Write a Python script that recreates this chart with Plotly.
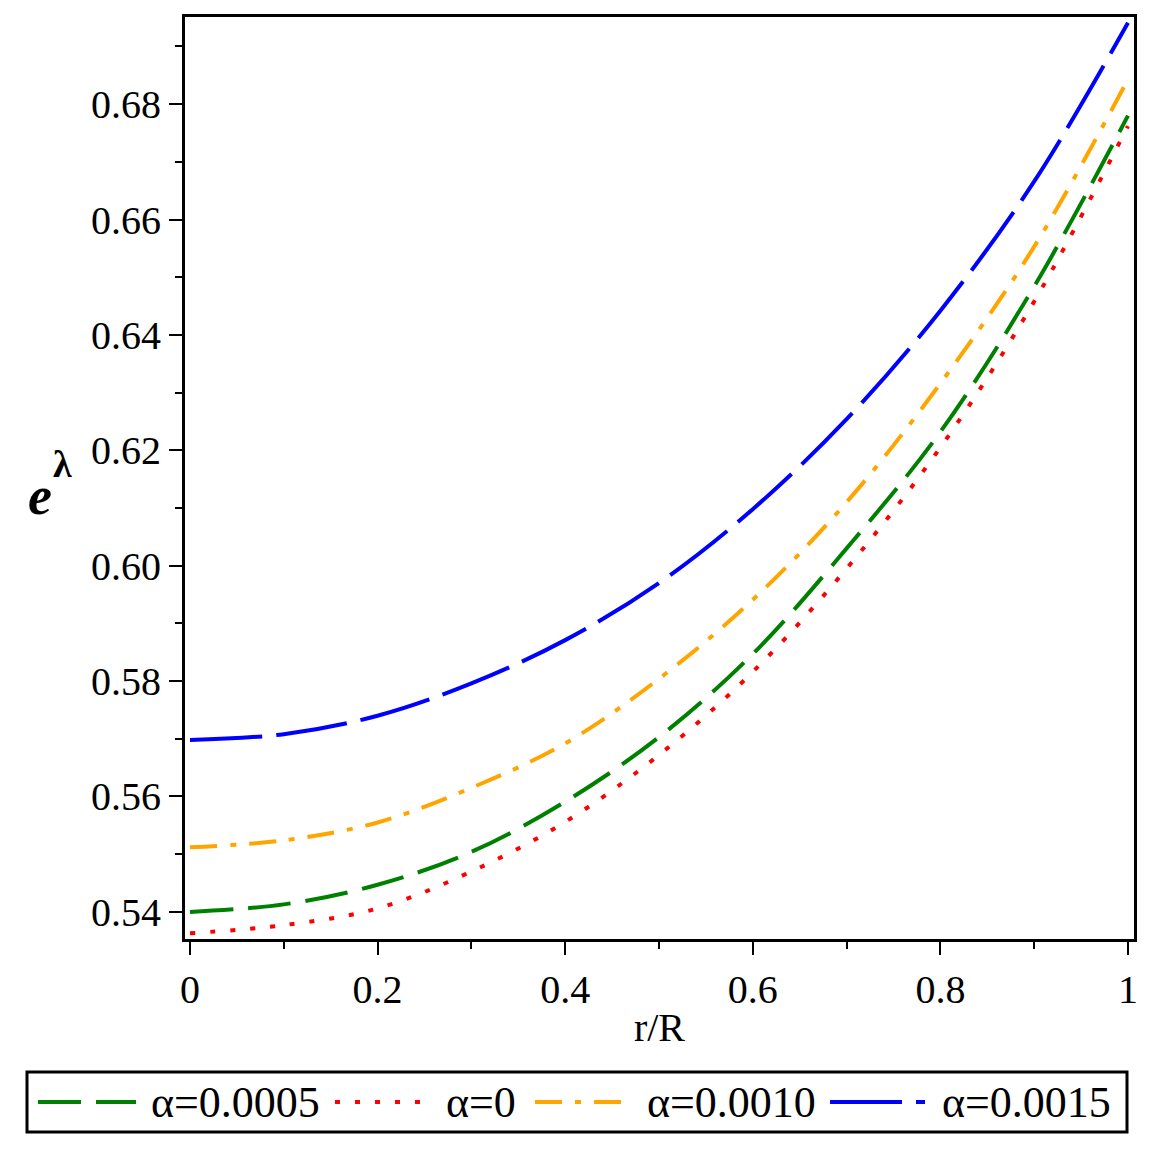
import plotly.graph_objects as go

# ---- data ----
r_over_R = [0.0, 0.1, 0.2, 0.3, 0.4, 0.5, 0.6, 0.7, 0.8, 0.9, 1.0]
e_lambda_a0005 = [0.5400, 0.5413, 0.5447, 0.5504, 0.5591, 0.5703, 0.5847, 0.6030, 0.6232, 0.6484, 0.6780]
e_lambda_a0 = [0.5363, 0.5377, 0.5406, 0.5470, 0.5556, 0.5672, 0.5816, 0.5995, 0.6205, 0.6458, 0.6762]
e_lambda_a0010 = [0.5512, 0.5524, 0.5555, 0.5615, 0.5692, 0.5804, 0.5941, 0.6110, 0.6316, 0.6553, 0.6843]
e_lambda_a0015 = [0.5698, 0.5708, 0.5740, 0.5796, 0.5871, 0.5970, 0.6098, 0.6254, 0.6442, 0.6666, 0.6941]

series_names = ["α=0.0005", "α=0", "α=0.0010", "α=0.0015"]
x_tick_vals = [0, 0.2, 0.4, 0.6, 0.8, 1.0]
x_tick_text = ["0", "0.2", "0.4", "0.6", "0.8", "1"]
y_tick_vals = [0.54, 0.56, 0.58, 0.60, 0.62, 0.64, 0.66, 0.68]
y_tick_text = ["0.54", "0.56", "0.58", "0.60", "0.62", "0.64", "0.66", "0.68"]

# ---- styles ----
W = H = 1157
L, R, T, B = 185, 1134, 17, 939
FONT = "Liberation Serif, Times New Roman, serif"
styles = [
    dict(color="#008000", dash="43px,15px"),
    dict(color="#ff0000", dash="5px,15px"),
    dict(color="#ffa500", dash="27px,13px,6px,13px"),
    dict(color="#0000ff", dash="72px,14px"),
]
series = [e_lambda_a0005, e_lambda_a0, e_lambda_a0010, e_lambda_a0015]

fig = go.Figure()
for name, ys, st in zip(series_names, series, styles):
    fig.add_trace(go.Scatter(
        x=r_over_R, y=ys, mode="lines", name=name,
        line=dict(color=st["color"], dash=st["dash"], width=4, shape="spline"),
        showlegend=False,
    ))

def px_x(px):
    return (px - L) / (R - L)

def px_y(py):
    return (B - py) / (B - T)

# custom legend (box, samples, labels)
shapes = [dict(type="rect", xref="paper", yref="paper",
               x0=px_x(27), x1=px_x(1127), y0=px_y(1132), y1=px_y(1072),
               line=dict(color="black", width=3), fillcolor="rgba(0,0,0,0)")]
legend_items = [(38, 136, 149), (335, 425, 444), (535, 628, 645), (830, 925, 940)]
annotations = []
ly = 1102
for (x0, x1, tx), name, st in zip(legend_items, series_names, styles):
    shapes.append(dict(type="line", xref="paper", yref="paper",
                       x0=px_x(x0), x1=px_x(x1), y0=px_y(ly), y1=px_y(ly),
                       line=dict(color=st["color"], width=4, dash=st["dash"])))
    annotations.append(dict(xref="paper", yref="paper", x=px_x(tx), y=px_y(ly),
                            xanchor="left", yanchor="middle", text=name, showarrow=False,
                            font=dict(family=FONT, size=44, color="black")))

# y-axis label e^λ (base and raised exponent)
annotations.append(dict(xref="paper", yref="paper", x=px_x(40), y=px_y(496),
                        xanchor="center", yanchor="middle", showarrow=False,
                        text="<b><i>e</i></b>",
                        font=dict(family=FONT, size=54, color="black")))
annotations.append(dict(xref="paper", yref="paper", x=px_x(63), y=px_y(464),
                        xanchor="center", yanchor="middle", showarrow=False,
                        text="<b>λ</b>",
                        font=dict(family=FONT, size=38, color="black")))

fig.update_layout(
    width=W, height=H,
    margin=dict(l=L, r=W - R, t=T, b=H - B, pad=0),
    paper_bgcolor="white", plot_bgcolor="white",
    font=dict(family=FONT, color="black"),
    shapes=shapes, annotations=annotations,
    showlegend=False,
)
fig.update_xaxes(
    range=[-0.0053, 1.0064], showgrid=False, zeroline=False,
    showline=True, linecolor="black", linewidth=3, mirror=True,
    ticks="outside", ticklen=13, tickwidth=2, tickcolor="black",
    tickvals=x_tick_vals, ticktext=x_tick_text,
    tickfont=dict(family=FONT, size=40, color="black"),
    minor=dict(dtick=0.1, tick0=0, ticks="outside", ticklen=7, tickwidth=2, tickcolor="black"),
    title=dict(text="r/R", font=dict(family=FONT, size=40, color="black"), standoff=2),
)
fig.update_yaxes(
    range=[0.5353, 0.6951], showgrid=False, zeroline=False,
    showline=True, linecolor="black", linewidth=3, mirror=True,
    ticks="outside", ticklen=13, tickwidth=2, tickcolor="black",
    tickvals=y_tick_vals, ticktext=y_tick_text,
    tickfont=dict(family=FONT, size=40, color="black"),
    minor=dict(dtick=0.01, tick0=0.54, ticks="outside", ticklen=7, tickwidth=2, tickcolor="black"),
)

fig.write_html("out.html")
